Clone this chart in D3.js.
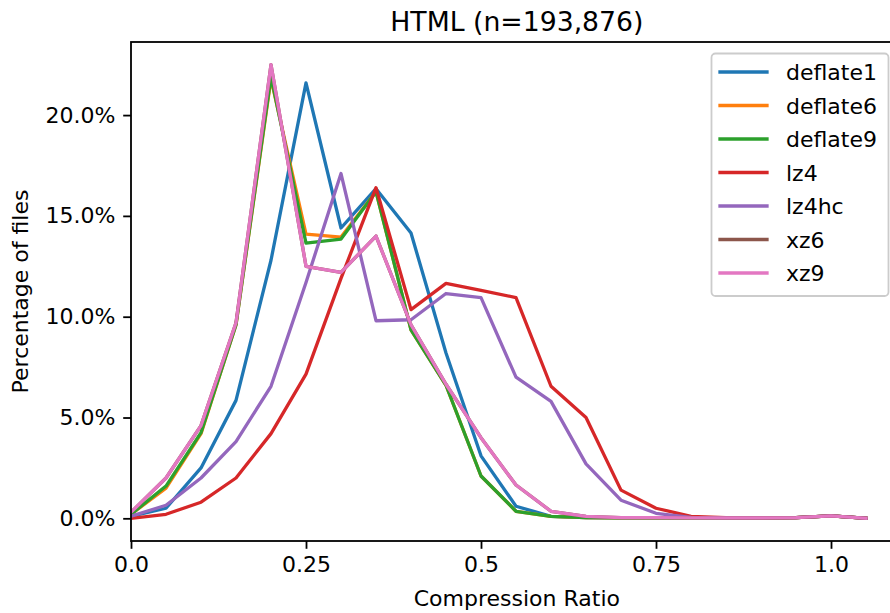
<!DOCTYPE html>
<html>
<head>
<meta charset="utf-8">
<script src="https://cdn.jsdelivr.net/npm/d3@7/dist/d3.min.js"></script>
<style>
  html, body { margin: 0; padding: 0; background: #fff; }
  svg { display: block; font-family: "DejaVu Sans", sans-serif; }
</style>
</head>
<body>
<svg id="chart" width="890" height="613"></svg>
<script>
// Compression ratio bins (lower edge of each 0.05-wide bin)
const ratios = [0, 0.05, 0.1, 0.15, 0.2, 0.25, 0.3, 0.35, 0.4, 0.45, 0.5, 0.55,
                0.6, 0.65, 0.7, 0.75, 0.8, 0.85, 0.9, 0.95, 1.0, 1.05];

// Percentage of files falling in each bin, per compressor
const deflate1 = [0.1, 0.5, 2.5, 5.85, 12.8, 21.6, 14.4, 16.35, 14.15, 8.2, 3.1, 0.6,
                  0.1, 0.03, 0.02, 0.02, 0.02, 0.02, 0.02, 0.03, 0.12, 0.0];
const deflate6 = [0.2, 1.5, 4.2, 9.6, 21.8, 14.1, 13.95, 16.2, 9.35, 6.6, 2.1, 0.35,
                  0.1, 0.03, 0.02, 0.02, 0.02, 0.02, 0.02, 0.03, 0.12, 0.0];
const deflate9 = [0.2, 1.6, 4.25, 9.6, 21.9, 13.65, 13.85, 16.2, 9.35, 6.6, 2.1, 0.35,
                  0.1, 0.03, 0.02, 0.02, 0.02, 0.02, 0.02, 0.03, 0.12, 0.0];
const lz4      = [0.0, 0.2, 0.8, 2.0, 4.2, 7.15, 11.9, 16.4, 10.35, 11.65, 11.3, 10.95,
                  6.55, 5.0, 1.4, 0.5, 0.1, 0.03, 0.02, 0.03, 0.12, 0.0];
const lz4hc    = [0.1, 0.65, 2.0, 3.8, 6.55, 11.7, 17.1, 9.8, 9.85, 11.15, 10.95, 7.0,
                  5.8, 2.7, 0.9, 0.25, 0.05, 0.02, 0.02, 0.03, 0.12, 0.0];
const xz6      = [0.3, 2.0, 4.6, 9.7, 22.5, 12.5, 12.2, 14.0, 9.6, 6.65, 4.0, 1.65,
                  0.35, 0.1, 0.03, 0.03, 0.02, 0.02, 0.02, 0.03, 0.12, 0.0];
const xz9      = [0.3, 2.0, 4.6, 9.7, 22.5, 12.5, 12.2, 14.0, 9.6, 6.65, 4.0, 1.65,
                  0.35, 0.1, 0.03, 0.03, 0.02, 0.02, 0.02, 0.03, 0.12, 0.0];

const seriesNames = ["deflate1", "deflate6", "deflate9", "lz4", "lz4hc", "xz6", "xz9"];
const seriesValues = [deflate1, deflate6, deflate9, lz4, lz4hc, xz6, xz9];
const colors = ["#1f77b4", "#ff7f0e", "#2ca02c", "#d62728", "#9467bd", "#8c564b", "#e377c2"];

const xTicks = [0, 0.25, 0.5, 0.75, 1.0];
const xTickLabels = ["0.0", "0.25", "0.5", "0.75", "1.0"];
const yTicks = [0, 5, 10, 15, 20];

const titleText = "HTML (n=193,876)";
const xLabel = "Compression Ratio";
const yLabel = "Percentage of files";

// Layout
const plot = { left: 131, top: 42, bottom: 541 };
const svg = d3.select("#chart");

const x = d3.scaleLinear().domain([0, 1.1025]).range([plot.left, plot.left + 1.1025 * 700]);
const y = d3.scaleLinear().domain([-1.125, 23.625]).range([plot.bottom, plot.top]);
const plotRight = x.range()[1];

const fontSize = 22;
const tickLen = 7.8;
const tickPad = 7.8;

svg.append("defs").append("clipPath").attr("id", "plot-clip")
  .append("rect")
  .attr("x", plot.left).attr("y", plot.top)
  .attr("width", plotRight - plot.left).attr("height", plot.bottom - plot.top);

// Series lines
const line = d3.line()
  .x((d, i) => x(ratios[i]))
  .y(d => y(d));

const linesG = svg.append("g").attr("clip-path", "url(#plot-clip)");
seriesValues.forEach((vals, k) => {
  linesG.append("path")
    .datum(vals)
    .attr("d", line)
    .attr("fill", "none")
    .attr("stroke", colors[k])
    .attr("stroke-width", 3.3)
    .attr("stroke-linejoin", "round")
    .attr("stroke-linecap", "square");
});

// Axes
const xAxis = d3.axisBottom(x)
  .tickValues(xTicks)
  .tickFormat((d, i) => xTickLabels[i])
  .tickSize(tickLen)
  .tickPadding(tickPad)
  .tickSizeOuter(0);

const yAxis = d3.axisLeft(y)
  .tickValues(yTicks)
  .tickFormat(d => d3.format(".1f")(d) + "%")
  .tickSize(tickLen)
  .tickPadding(tickPad)
  .tickSizeOuter(0);

const gx = svg.append("g")
  .attr("transform", `translate(0,${plot.bottom})`)
  .call(xAxis);
const gy = svg.append("g")
  .attr("transform", `translate(${plot.left},0)`)
  .call(yAxis);

[gx, gy].forEach(g => {
  g.select(".domain").remove();
  g.selectAll(".tick line").attr("stroke", "#000").attr("stroke-width", 1.8);
  g.selectAll(".tick text")
    .attr("fill", "#000")
    .style("font-size", fontSize + "px")
    .style("font-family", "'DejaVu Sans', sans-serif");
});

// Axes frame
svg.append("rect")
  .attr("x", plot.left).attr("y", plot.top)
  .attr("width", plotRight - plot.left).attr("height", plot.bottom - plot.top)
  .attr("fill", "none")
  .attr("stroke", "#000")
  .attr("stroke-width", 1.8);

// Title and axis labels
const midX = (plot.left + plotRight) / 2;
svg.append("text")
  .attr("x", midX).attr("y", 31)
  .attr("text-anchor", "middle")
  .style("font-size", "26.7px")
  .text(titleText);

svg.append("text")
  .attr("x", midX).attr("y", 606)
  .attr("text-anchor", "middle")
  .style("font-size", fontSize + "px")
  .text(xLabel);

svg.append("text")
  .attr("transform", `translate(28,${(plot.top + plot.bottom) / 2}) rotate(-90)`)
  .attr("text-anchor", "middle")
  .style("font-size", fontSize + "px")
  .text(yLabel);

// Legend
const legend = svg.append("g");
legend.append("rect")
  .attr("x", 711.5).attr("y", 53.5)
  .attr("width", 177).attr("height", 242.5)
  .attr("rx", 4).attr("ry", 4)
  .attr("fill", "#fff").attr("fill-opacity", 0.8)
  .attr("stroke", "#cccccc").attr("stroke-width", 1.8);

seriesNames.forEach((name, k) => {
  const ly = 72 + k * 33.5;
  legend.append("line")
    .attr("x1", 720).attr("x2", 767)
    .attr("y1", ly).attr("y2", ly)
    .attr("stroke", colors[k])
    .attr("stroke-width", 3.3)
    .attr("stroke-linecap", "square");
  legend.append("text")
    .attr("x", 786).attr("y", ly + 8)
    .style("font-size", fontSize + "px")
    .text(name);
});
</script>
</body>
</html>
